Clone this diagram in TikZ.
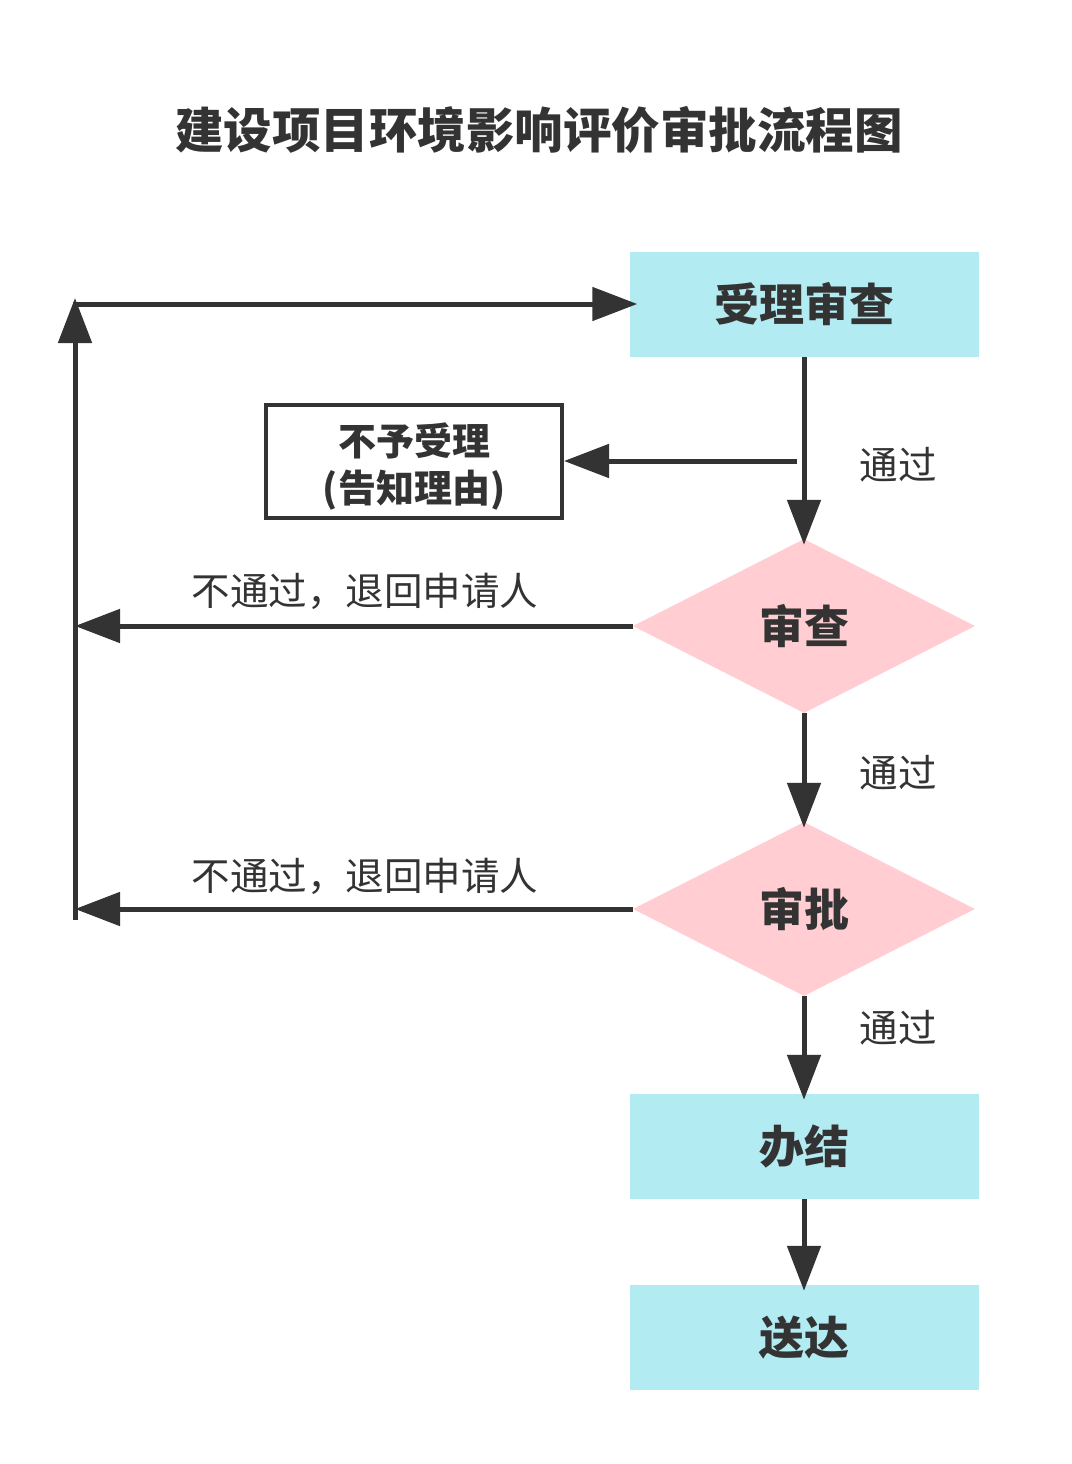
\documentclass[tikz,border=0pt]{standalone}
\usepackage{fontspec}
\setmainfont{Noto Sans CJK SC}
\usetikzlibrary{shapes.geometric,arrows.meta}
\definecolor{boxcyan}{HTML}{B2EBF2}
\definecolor{diapink}{HTML}{FFCDD2}
\definecolor{darkline}{HTML}{333333}
\newcommand{\lowertext}[1]{\raisebox{-5pt}[\height][\depth]{#1}}
\begin{document}
\begin{tikzpicture}[x=1pt,y=-1pt,
block/.style ={rectangle, fill=boxcyan, text=darkline,
  minimum width=349pt, minimum height=105pt, inner sep=0pt,
  font=\fontsize{45}{50}\selectfont\bfseries
},
check/.style ={diamond, fill=diapink, text=darkline, aspect=1.97,
  minimum width=342pt, minimum height=174pt, inner sep=0pt,
  font=\fontsize{45}{50}\selectfont\bfseries
},
reject/.style ={rectangle, draw=darkline, line width=4pt, fill=white,
  text=darkline, align=center, minimum width=296pt, minimum height=113pt,
  inner sep=0pt, font=\fontsize{38}{47}\selectfont\bfseries
},
note/.style ={text=darkline, inner sep=0pt, font=\fontsize{38.5}{44}\selectfont},
arrow/.style ={draw=darkline, line width=5pt,
  -{Triangle[length=45pt,width=33pt]}
}]
\useasboundingbox (0,0) rectangle (1071,1464);

\node (title) at (539,130) [text=darkline, font=\fontsize{48.5}{56}\selectfont\bfseries]
  {建设项目环境影响评价审批流程图};

\node (accept) at (804,304) [block] {受理审查};
\node (refuse) at (414,461.5) [reject] {\lowertext{不予受理}\\\lowertext{(告知理由)}};
\node (review) at (804,626) [check] {审查};
\node (approve) at (804,909) [check] {审批};
\node (finish) at (804,1146.5) [block] {办结};
\node (deliver) at (804,1337.5) [block] {送达};

% return path on the left
\coordinate (lb) at (75,920);
\coordinate (lt) at (75,298);
\coordinate (lc) at (72.5,304);
\coordinate (br) at (797,461);

\draw[arrow] (lb) -- (lt);
\draw[arrow, shorten >=-8pt] (lc) -- (accept.west);
\draw[arrow] (review.west) -- (review.west -| lb);
\draw[arrow] (approve.west) -- (approve.west -| lb);

% main flow
\draw[arrow, shorten >=-6pt] (accept.south) -- (review.north);
\draw[arrow, shorten >=-6pt] (review.south) -- (approve.north);
\draw[arrow, shorten >=-6pt] (approve.south) -- (finish.north);
\draw[arrow, shorten >=-6pt] (finish.south) -- (deliver.north);
\draw[arrow] (br) -- (br -| refuse.east);

\node (pass1) at (898,465) [note] {通过};
\node (pass2) at (898,773) [note] {通过};
\node (pass3) at (898,1028) [note] {通过};
\node (back1) at (365,591) [note] {不通过，退回申请人};
\node (back2) at (365,876) [note] {不通过，退回申请人};
\end{tikzpicture}
\end{document}
